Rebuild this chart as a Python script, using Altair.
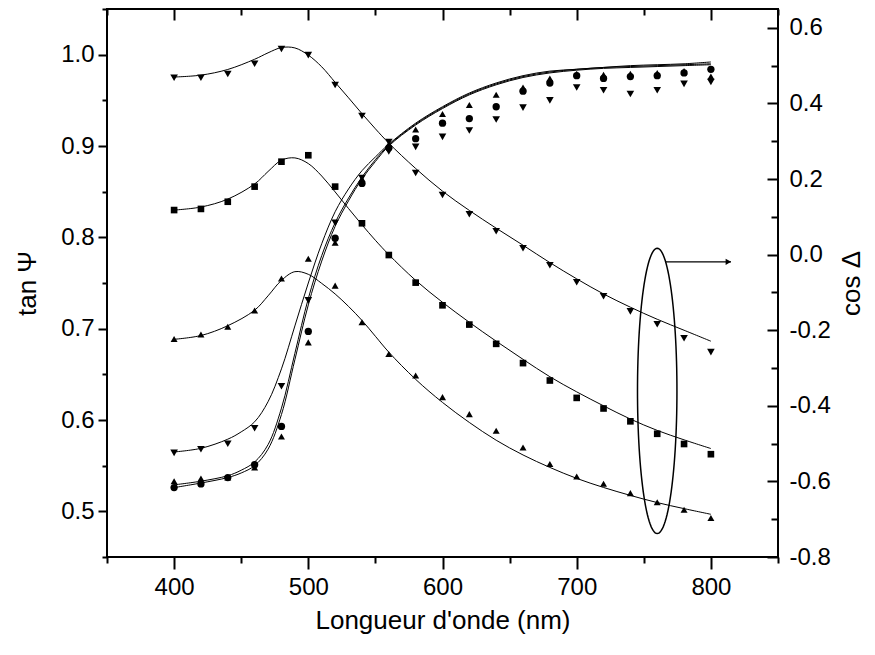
import altair as alt
import numpy as np
import pandas as pd

# ---------------- data ----------------
wavelength = [400, 420, 440, 460, 480, 500, 520, 540, 560, 580, 600,
              620, 640, 660, 680, 700, 720, 740, 760, 780, 800]

# tan Psi (left axis) measured points
tan_down = [0.564, 0.568, 0.574, 0.591, 0.637, 0.731, 0.816, 0.865, 0.894, 0.899, 0.910,
            0.917, 0.929, 0.942, 0.950, 0.964, 0.961, 0.957, 0.961, 0.968, 0.970]
tan_circle = [0.526, 0.530, 0.537, 0.551, 0.593, 0.697, 0.799, 0.859, 0.898, 0.908, 0.925,
              0.930, 0.943, 0.960, 0.969, 0.977, 0.974, 0.976, 0.977, 0.980, 0.984]
tan_up = [0.533, 0.536, 0.537, 0.548, 0.582, 0.685, 0.794, 0.864, 0.902, 0.918, 0.935,
          0.945, 0.956, 0.964, 0.974, 0.979, 0.978, 0.979, 0.980, 0.982, 0.976]

# cos Delta (right axis) measured points
cos_down = [0.468, 0.468, 0.478, 0.505, 0.544, 0.528, 0.449, 0.367, 0.298, 0.216, 0.158,
            0.107, 0.062, 0.017, -0.028, -0.073, -0.110, -0.150, -0.184, -0.221, -0.258]
cos_square = [0.118, 0.121, 0.140, 0.180, 0.246, 0.263, 0.180, 0.083, -0.001, -0.074, -0.134,
              -0.185, -0.236, -0.287, -0.333, -0.379, -0.407, -0.441, -0.474, -0.501, -0.528]
cos_up = [-0.223, -0.211, -0.191, -0.148, -0.063, -0.011, -0.082, -0.179, -0.263, -0.320, -0.377,
          -0.422, -0.466, -0.510, -0.554, -0.587, -0.606, -0.631, -0.655, -0.675, -0.697]

# fitted curves
fit_wl_tan = [400, 420, 440, 450, 460, 470, 480, 490, 500, 510, 520, 530, 540, 550, 560,
              580, 600, 620, 640, 660, 680, 700, 720, 740, 760, 780, 800]
tan_fit_down = [0.565, 0.569, 0.579, 0.587, 0.598, 0.620, 0.656, 0.703, 0.750, 0.793, 0.828, 0.853, 0.873, 0.888, 0.902,
                0.925, 0.943, 0.958, 0.969, 0.977, 0.982, 0.984, 0.986, 0.988, 0.989, 0.990, 0.992]
tan_fit_circle = [0.529, 0.533, 0.539, 0.545, 0.554, 0.573, 0.613, 0.673, 0.733, 0.780, 0.816, 0.843, 0.866, 0.885, 0.901,
                  0.924, 0.942, 0.957, 0.968, 0.976, 0.981, 0.984, 0.986, 0.987, 0.988, 0.989, 0.990]
tan_fit_up = [0.526, 0.531, 0.537, 0.542, 0.550, 0.568, 0.606, 0.666, 0.726, 0.774, 0.812, 0.840, 0.864, 0.883, 0.900,
              0.923, 0.941, 0.956, 0.967, 0.975, 0.980, 0.983, 0.985, 0.986, 0.987, 0.988, 0.989]

fit_wl_cos = [400, 420, 440, 460, 470, 480, 490, 500, 510, 520, 530, 540, 550, 560,
              580, 600, 620, 640, 660, 680, 700, 720, 740, 760, 780, 800]
cos_fit_down = [0.470, 0.475, 0.490, 0.517, 0.534, 0.548, 0.547, 0.528, 0.497, 0.456, 0.415, 0.373, 0.333, 0.295,
                0.228, 0.168, 0.117, 0.070, 0.025, -0.021, -0.064, -0.104, -0.139, -0.171, -0.200, -0.229]
cos_fit_square = [0.118, 0.126, 0.147, 0.187, 0.220, 0.250, 0.256, 0.241, 0.208, 0.166, 0.122, 0.079, 0.038, 0.000,
                  -0.068, -0.126, -0.179, -0.229, -0.277, -0.323, -0.363, -0.400, -0.435, -0.465, -0.490, -0.513]
cos_fit_up = [-0.224, -0.214, -0.188, -0.147, -0.109, -0.068, -0.045, -0.052, -0.076, -0.104, -0.137, -0.174, -0.216, -0.258,
              -0.330, -0.391, -0.444, -0.491, -0.530, -0.563, -0.592, -0.616, -0.637, -0.656, -0.672, -0.687]

# annotation: ellipse around the cos Delta curves and arrow to the right axis
ellipse_center = (760, -0.3605)
ellipse_radii = (14.7, 0.3775)
arrow_start, arrow_end, arrow_y = 766, 815, -0.019

x_ticks = [400, 500, 600, 700, 800]
x_minor = [350, 450, 550, 650, 750, 850]
tan_ticks = [0.5, 0.6, 0.7, 0.8, 0.9, 1.0]
tan_minor = [0.45, 0.55, 0.65, 0.75, 0.85, 0.95, 1.05]
cos_ticks = [-0.8, -0.6, -0.4, -0.2, 0.0, 0.2, 0.4, 0.6]
cos_minor = [-0.7, -0.5, -0.3, -0.1, 0.1, 0.3, 0.5]

# ---------------- frames ----------------
def long(wl, series):
    rows = []
    for name, vals in series.items():
        for w, v in zip(wl, vals):
            rows.append({"wl": w, "v": v, "s": name})
    return pd.DataFrame(rows)

tan_pts_df = long(wavelength, {"down": tan_down, "circle": tan_circle, "up": tan_up})
cos_pts_df = long(wavelength, {"down": cos_down, "square": cos_square, "up": cos_up})
tan_fit_df = long(fit_wl_tan, {"down": tan_fit_down, "circle": tan_fit_circle, "up": tan_fit_up})
cos_fit_df = long(fit_wl_cos, {"down": cos_fit_down, "square": cos_fit_square, "up": cos_fit_up})

t = np.linspace(0, 2 * np.pi, 121)
ell_df = pd.DataFrame({"i": np.arange(len(t)),
                       "wl": ellipse_center[0] + ellipse_radii[0] * np.cos(t),
                       "v": ellipse_center[1] + ellipse_radii[1] * np.sin(t)})
arrow_df = pd.DataFrame({"wl": [arrow_start], "wl2": [arrow_end], "v": [arrow_y]})
head_df = pd.DataFrame({"wl": [arrow_end - 2], "v": [arrow_y]})

W, H = 671, 548
FONT = "Liberation Sans"
X_DOM = [350, 850]
TAN_DOM = [0.45, 1.05]
COS_DOM = [-0.8, 0.65]
LBL = "replace(format(datum.value, '.1f'), '\u2212', '-')"


def xsc():
    return alt.Scale(domain=X_DOM, nice=False, zero=False)


def tsc():
    return alt.Scale(domain=TAN_DOM, nice=False, zero=False)


def csc():
    return alt.Scale(domain=COS_DOM, nice=False, zero=False)


shape_scale = alt.Scale(domain=["down", "circle", "up", "square"],
                        range=["triangle-down", "circle", "triangle-up", "square"])
size_scale = alt.Scale(domain=["down", "circle", "up", "square"], range=[58, 44, 58, 44])

# layer 1: tan fits, bottom axis (labels) + left axis (labels)
tan_lines = alt.Chart(tan_fit_df).mark_line(color="black", strokeWidth=1, interpolate="catmull-rom").encode(
    x=alt.X("wl:Q", scale=xsc(), axis=alt.Axis(orient="bottom", values=x_ticks, tickSize=12, labelPadding=6,
                                              title="Longueur d'onde (nm)", titlePadding=8, format="d")),
    y=alt.Y("v:Q", scale=tsc(), axis=alt.Axis(orient="left", values=tan_ticks, tickSize=9, labelPadding=4,
                                             labelExpr=LBL, title="tan \u03a8", titlePadding=20)),
    detail="s:N")

# layer 2: tan points, minor ticks bottom/left
tan_pts = alt.Chart(tan_pts_df).mark_point(filled=True, color="black", opacity=1).encode(
    x=alt.X("wl:Q", scale=xsc(), axis=alt.Axis(orient="bottom", values=x_minor, tickSize=6, labels=False, title=None)),
    y=alt.Y("v:Q", scale=tsc(), axis=alt.Axis(orient="left", values=tan_minor, tickSize=5, labels=False, title=None)),
    shape=alt.Shape("s:N", scale=shape_scale, legend=None),
    size=alt.Size("s:N", scale=size_scale, legend=None))

# layer 3: cos fits, top inward major ticks + right labels
cos_lines = alt.Chart(cos_fit_df).mark_line(color="black", strokeWidth=1, interpolate="catmull-rom").encode(
    x=alt.X("wl:Q", scale=xsc(), axis=alt.Axis(orient="bottom", offset=-H, values=x_ticks, tickSize=11,
                                              labels=False, title=None)),
    y=alt.Y("v:Q", scale=csc(), axis=alt.Axis(orient="right", values=cos_ticks, ticks=False, tickSize=0,
                                             labelPadding=11, labelExpr=LBL, title="cos \u0394",
                                             titleAngle=270, titlePadding=34)),
    detail="s:N")

# layer 4: cos points, top inward minor ticks + right inward major ticks
cos_pts = alt.Chart(cos_pts_df).mark_point(filled=True, color="black", opacity=1).encode(
    x=alt.X("wl:Q", scale=xsc(), axis=alt.Axis(orient="bottom", offset=-H, values=x_minor, tickSize=6,
                                              labels=False, title=None)),
    y=alt.Y("v:Q", scale=csc(), axis=alt.Axis(orient="left", offset=-W, values=cos_ticks, tickSize=11,
                                             labels=False, title=None)),
    shape=alt.Shape("s:N", scale=shape_scale, legend=None),
    size=alt.Size("s:N", scale=size_scale, legend=None))

# layer 5: ellipse, right inward minor ticks
ellipse = alt.Chart(ell_df).mark_line(color="black", strokeWidth=1.5).encode(
    x=alt.X("wl:Q", scale=xsc(), axis=None),
    y=alt.Y("v:Q", scale=csc(), axis=alt.Axis(orient="left", offset=-W, values=cos_minor, tickSize=7,
                                             labels=False, title=None)),
    order="i:Q")

arrow = alt.Chart(arrow_df).mark_rule(color="black", strokeWidth=1.2).encode(
    x=alt.X("wl:Q", scale=xsc(), axis=None),
    x2="wl2:Q",
    y=alt.Y("v:Q", scale=csc(), axis=None))

head = alt.Chart(head_df).mark_point(shape="triangle-right", filled=True, color="black", opacity=1, size=40).encode(
    x=alt.X("wl:Q", scale=xsc(), axis=None),
    y=alt.Y("v:Q", scale=csc(), axis=None))

chart = alt.layer(tan_lines, tan_pts, cos_lines, cos_pts, ellipse, arrow, head).resolve_scale(
    x="independent", y="independent"
).properties(
    width=W, height=H,
    autosize=alt.AutoSizeParams(type="none"),
    padding={"left": 99, "top": 1, "right": 88, "bottom": 85},
    background="white",
).configure_view(
    stroke="black", strokeWidth=2
).configure_axis(
    labelFont=FONT, titleFont=FONT, labelFontSize=24, titleFontSize=26,
    labelColor="black", titleColor="black", tickColor="black", tickWidth=2,
    domain=False, grid=False, titleFontWeight="normal",
)

chart.save("out.html", embed_options={"renderer": "svg", "actions": False})
